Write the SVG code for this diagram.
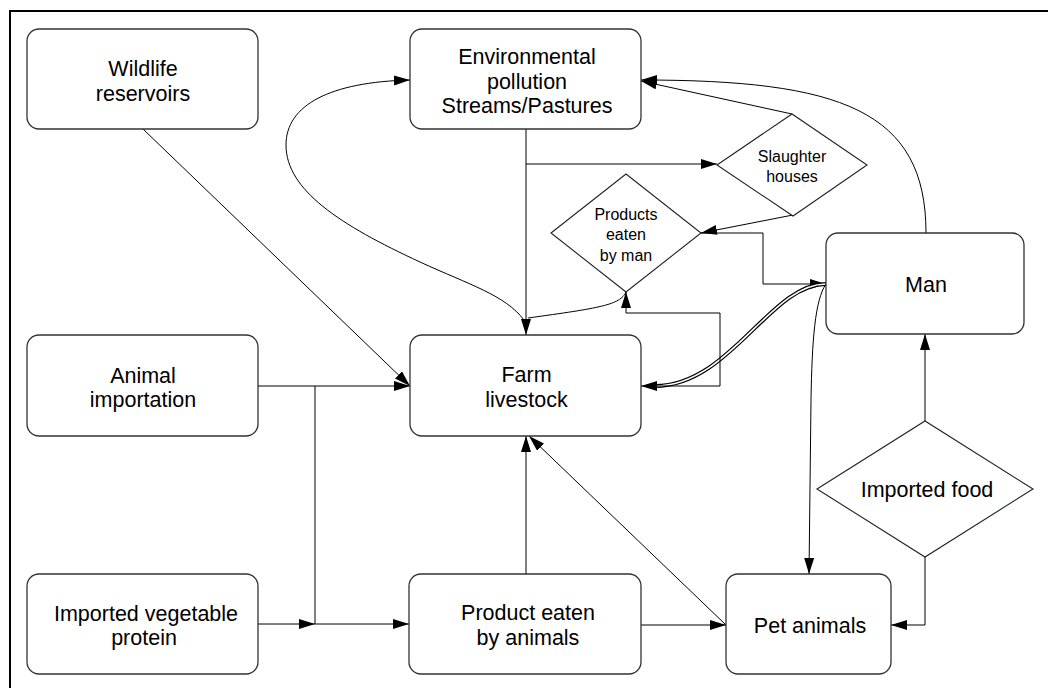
<svg xmlns="http://www.w3.org/2000/svg" width="1048" height="688" viewBox="0 0 1048 688">
<style>
.box{fill:#fff;stroke:#333;stroke-width:1.3}
.dia{fill:#fff;stroke:#222;stroke-width:1.1}
.t{font-family:"Liberation Sans",Arial,sans-serif;font-size:21.5px;fill:#000;text-anchor:middle}
.s{font-family:"Liberation Sans",Arial,sans-serif;font-size:16px;fill:#000;text-anchor:middle}
.c{fill:none;stroke:#000;stroke-width:1}
.a{marker-end:url(#ah)}
</style>
<defs>
<marker id="ah" markerUnits="userSpaceOnUse" markerWidth="17" markerHeight="11" refX="16" refY="5" orient="auto" viewBox="0 0 17 11">
<path d="M0,0 L16,5 L0,10 z" fill="#000"/>
</marker>
</defs>
<rect width="1048" height="688" fill="#fff"/>
<rect x="10" y="11" width="1200" height="900" fill="none" stroke="#000" stroke-width="2"/>

<g id="connectors">
<path class="c a" d="M143,129 L410,386"/>
<path class="c a" d="M258,386 L410,386"/>
<path class="c" d="M315,386 L315,624"/>
<path class="c a" d="M258,624 L315,624"/>
<path class="c a" d="M315,624 L409,624"/>
<path class="c a" d="M526,574 L526,436"/>
<path class="c a" d="M726,625 L529,436"/>
<path class="c a" d="M641,625 L726,625"/>
<path class="c a" d="M526,129 L526,335"/>
<path class="c a" d="M526,164 L717,164"/>
<path class="c a" d="M792,114 L641,81"/>
<path class="c a" d="M926,233 C926,110 840,80 641,80"/>
<path class="c a" d="M793,215 L701,233"/>
<path class="c a" d="M701,233 H763 V284 H826"/>
<path d="M826,284 C770,284 730,386 655,386" fill="none" stroke="#000" stroke-width="4"/>
<path d="M826,284 C770,284 730,386 655,386" fill="none" stroke="#fff" stroke-width="1.6"/>
<path class="c a" d="M656,386 L641,386"/>
<path class="c a" d="M656,386 H720 V313 H626 V292"/>
<path class="c a" d="M826,284 C815,300 812,340 811,400 L809,574"/>
<path class="c a" d="M925,557 V625 H891"/>
<path class="c a" d="M925,421 V334"/>
<path class="c a" d="M524,320 C505,295 470,285 420,262 C340,225 286,190 286,145 C286,105 330,82 410,80"/>
<path class="c" d="M626,292 C620,305 600,308 528,318"/>
</g>

<g id="wildlife">
<rect class="box" x="27" y="29" width="231" height="100" rx="12"/>
<text class="t" x="143" y="76">Wildlife</text>
<text class="t" x="143" y="101">reservoirs</text>
</g>
<g id="environment">
<rect class="box" x="410" y="29" width="231" height="100" rx="12"/>
<text class="t" x="527" y="64">Environmental</text>
<text class="t" x="527" y="88.5">pollution</text>
<text class="t" x="527" y="113">Streams/Pastures</text>
</g>
<g id="slaughter">
<polygon class="dia" points="717,165 792,114 867,165 793,216"/>
<text class="s" x="792" y="162">Slaughter</text>
<text class="s" x="792" y="182">houses</text>
</g>
<g id="products-man">
<polygon class="dia" points="551,233 626,174 701,233 626,292"/>
<text class="s" x="626" y="219.5">Products</text>
<text class="s" x="626" y="240">eaten</text>
<text class="s" x="626" y="260.5">by man</text>
</g>
<g id="man">
<rect class="box" x="826" y="233" width="198" height="101" rx="12"/>
<text class="t" x="926" y="292">Man</text>
</g>
<g id="animal-importation">
<rect class="box" x="27" y="335" width="231" height="101" rx="12"/>
<text class="t" x="143" y="383">Animal</text>
<text class="t" x="143" y="407">importation</text>
</g>
<g id="farm">
<rect class="box" x="410" y="335" width="231" height="101" rx="12"/>
<text class="t" x="526.5" y="382">Farm</text>
<text class="t" x="526.5" y="407">livestock</text>
</g>
<g id="imported-food">
<polygon class="dia" points="817,489 925,421 1033,489 925,557"/>
<text class="t" x="927" y="497">Imported food</text>
</g>
<g id="imported-vegetable">
<rect class="box" x="27" y="574" width="231" height="100" rx="12"/>
<text class="t" x="146" y="621">Imported vegetable</text>
<text class="t" x="144" y="645">protein</text>
</g>
<g id="product-animals">
<rect class="box" x="409" y="574" width="232" height="100" rx="12"/>
<text class="t" x="528" y="620">Product eaten</text>
<text class="t" x="528" y="645">by animals</text>
</g>
<g id="pet">
<rect class="box" x="726" y="574" width="165" height="100" rx="12"/>
<text class="t" x="810" y="633">Pet animals</text>
</g>
</svg>
